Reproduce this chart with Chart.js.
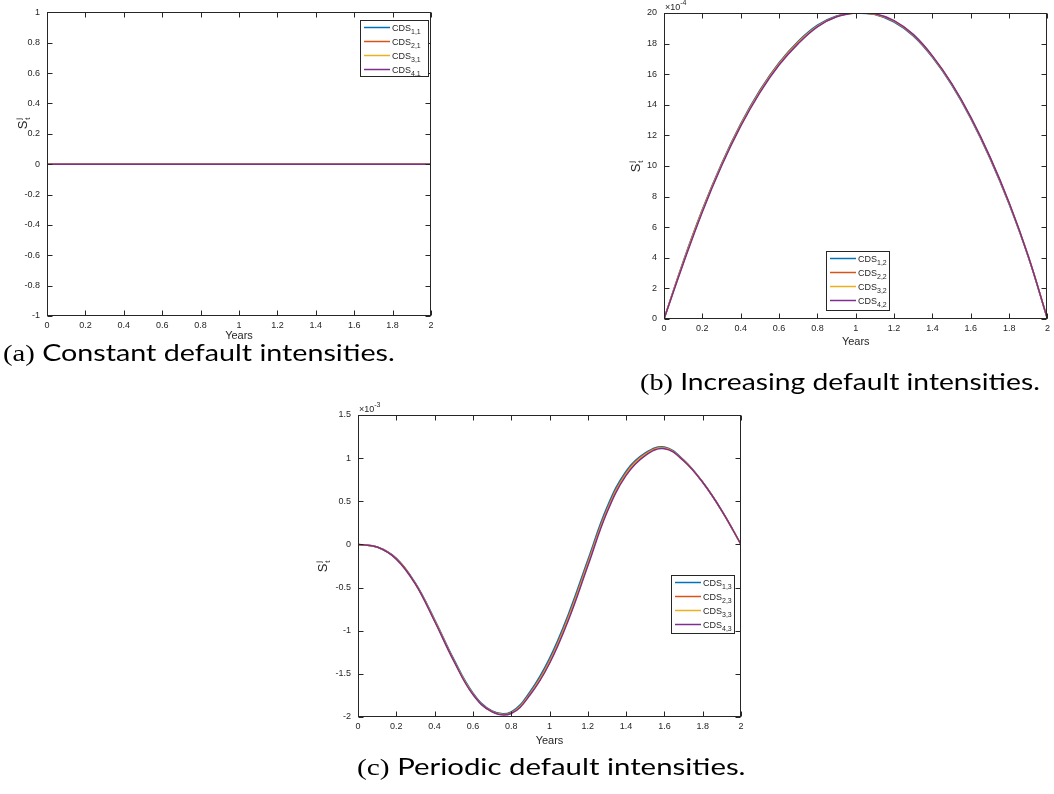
<!DOCTYPE html>
<html>
<head>
<meta charset="utf-8">
<script src="https://cdn.jsdelivr.net/npm/chart.js@4.4.1/dist/chart.umd.min.js"></script>
<style>
  body { margin: 0; background: #fff; width: 1054px; height: 794px; position: relative; overflow: hidden; }
  canvas { position: absolute; }
  .caption { position: absolute; white-space: nowrap; font-family: Lato, "Noto Sans", sans-serif; font-size: 24px; color: #000; transform-origin: left top; line-height: 28px; }
  .caption .tag { font-family: "Liberation Serif", "DejaVu Serif", serif; }
</style>
</head>
<body>
<canvas id="plotA" width="445" height="350" style="left:0px;top:0px"></canvas>
<canvas id="plotB" width="454" height="350" style="left:600px;top:0px"></canvas>
<canvas id="plotC" width="470" height="360" style="left:290px;top:395px"></canvas>

<div class="caption" id="capA" data-w="392" style="left:3px;top:338px"><span class="tag">(a)</span> Constant default intensities.</div>
<div class="caption" id="capB" data-w="400" style="left:640px;top:367px"><span class="tag">(b)</span> Increasing default intensities.</div>
<div class="caption" id="capC" data-w="388" style="left:357px;top:752px"><span class="tag">(c)</span> Periodic default intensities.</div>

<script>
// time grid (years)
const years = [0, 0.1, 0.2, 0.3, 0.4, 0.5, 0.6, 0.7, 0.8, 0.9, 1.0, 1.1, 1.2, 1.3, 1.4, 1.5, 1.6, 1.7, 1.8, 1.9, 2.0];

// series colours (MATLAB default order)
const colors = ["#0072BD", "#D95319", "#EDB120", "#7E2F8E"];

// (a) constant intensities: spread is flat zero
const cds11 = [0, 0, 0, 0, 0, 0, 0, 0, 0, 0, 0, 0, 0, 0, 0, 0, 0, 0, 0, 0, 0];
const cds21 = [0, 0, 0, 0, 0, 0, 0, 0, 0, 0, 0, 0, 0, 0, 0, 0, 0, 0, 0, 0, 0];
const cds31 = [0, 0, 0, 0, 0, 0, 0, 0, 0, 0, 0, 0, 0, 0, 0, 0, 0, 0, 0, 0, 0];
const cds41 = [0, 0, 0, 0, 0, 0, 0, 0, 0, 0, 0, 0, 0, 0, 0, 0, 0, 0, 0, 0, 0];
const namesA = ["1,1", "2,1", "3,1", "4,1"];

// (b) increasing intensities, values in units of 1e-4
const cds12 = [0, 3.75, 7.15, 10.15, 12.75, 14.95, 16.75, 18.15, 19.2, 19.8, 20.0, 19.9, 19.4, 18.5, 17.1, 15.3, 13.1, 10.5, 7.5, 4.05, 0];
const cds22 = [0, 3.7, 7.1, 10.1, 12.7, 14.9, 16.7, 18.1, 19.15, 19.78, 20.0, 19.92, 19.45, 18.55, 17.15, 15.35, 13.15, 10.55, 7.55, 4.08, 0];
const cds32 = [0, 3.65, 7.05, 10.05, 12.65, 14.85, 16.65, 18.05, 19.12, 19.76, 20.0, 19.94, 19.48, 18.58, 17.18, 15.38, 13.18, 10.58, 7.58, 4.1, 0];
const cds42 = [0, 3.6, 7.0, 10.0, 12.6, 14.8, 16.6, 18.0, 19.1, 19.75, 20.0, 19.95, 19.5, 18.6, 17.2, 15.4, 13.2, 10.6, 7.6, 4.1, 0];
const namesB = ["1,2", "2,2", "3,2", "4,2"];

// (c) periodic intensities, values in units of 1e-3
const cds13 = [0, -0.03, -0.16, -0.45, -0.87, -1.33, -1.72, -1.93, -1.94, -1.70, -1.32, -0.80, -0.18, 0.43, 0.85, 1.06, 1.13, 0.98, 0.72, 0.39, 0];
const cds23 = [0, -0.03, -0.165, -0.455, -0.88, -1.34, -1.73, -1.935, -1.95, -1.72, -1.35, -0.83, -0.21, 0.40, 0.83, 1.05, 1.12, 0.975, 0.72, 0.39, 0];
const cds33 = [0, -0.03, -0.17, -0.46, -0.885, -1.345, -1.735, -1.94, -1.955, -1.73, -1.365, -0.85, -0.23, 0.385, 0.815, 1.04, 1.115, 0.97, 0.72, 0.39, 0];
const cds43 = [0, -0.03, -0.17, -0.46, -0.89, -1.35, -1.74, -1.94, -1.96, -1.74, -1.38, -0.87, -0.25, 0.37, 0.80, 1.03, 1.11, 0.97, 0.72, 0.39, 0];
const namesC = ["1,3", "2,3", "3,3", "4,3"];

const ink = "#262626";
const tickFont = { family: "'Liberation Sans', Arial, sans-serif", size: 9 };

// box, inward ticks, axis labels, exponent and legend
const framePlugin = {
  id: "frame",
  afterDatasetsDraw(chart, args, opts) {
    let ctx = chart.ctx;
    let a = chart.chartArea;
    let sx = chart.scales.x, sy = chart.scales.y;
    let L = Math.round(a.left) + 0.5, R = Math.round(a.right) - 0.5;
    let T = Math.round(a.top) + 0.5, B = Math.round(a.bottom) - 0.5;

    ctx.save();
    ctx.strokeStyle = ink;
    ctx.lineWidth = 1;
    ctx.strokeRect(L, T, R - L, B - T);

    ctx.beginPath();
    sx.ticks.forEach(t => {
      let p = Math.round(sx.getPixelForValue(t.value)) + 0.5;
      ctx.moveTo(p, B); ctx.lineTo(p, B - 5);
      ctx.moveTo(p, T); ctx.lineTo(p, T + 5);
    });
    sy.ticks.forEach(t => {
      let p = Math.round(sy.getPixelForValue(t.value)) + 0.5;
      ctx.moveTo(L, p); ctx.lineTo(L + 5, p);
      ctx.moveTo(R, p); ctx.lineTo(R - 5, p);
    });
    ctx.stroke();

    // x axis title
    ctx.fillStyle = ink;
    ctx.font = "11px 'Liberation Sans', Arial, sans-serif";
    ctx.textAlign = "center";
    ctx.textBaseline = "middle";
    ctx.fillText("Years", (a.left + a.right) / 2, a.bottom + opts.yearsGap);

    // y axis title S_t^j, rotated
    ctx.save();
    ctx.translate(opts.ylabel[0], opts.ylabel[1]);
    ctx.rotate(-Math.PI / 2);
    ctx.textAlign = "left";
    ctx.textBaseline = "alphabetic";
    ctx.font = "13px 'Liberation Sans', Arial, sans-serif";
    let ws = ctx.measureText("S").width;
    ctx.fillText("S", -ws / 2 - 2, 5);
    ctx.font = "8px 'Liberation Sans', Arial, sans-serif";
    ctx.fillText("j", ws / 2 - 1, -1);
    ctx.fillText("t", ws / 2 - 1, 8);
    ctx.restore();

    // scale exponent above the y axis
    if (opts.exponent) {
      ctx.textAlign = "left";
      ctx.textBaseline = "alphabetic";
      ctx.font = "9px 'Liberation Sans', Arial, sans-serif";
      ctx.fillText("\u00d710", a.left + 1, a.top - 3);
      let w = ctx.measureText("\u00d710").width;
      ctx.font = "7px 'Liberation Sans', Arial, sans-serif";
      ctx.fillText(opts.exponent, a.left + 1 + w, a.top - 8);
    }

    // legend
    let lg = opts.legend;
    ctx.fillStyle = "#fff";
    ctx.fillRect(lg.x + 0.5, lg.y + 0.5, lg.w, lg.h);
    ctx.strokeStyle = ink;
    ctx.strokeRect(lg.x + 0.5, lg.y + 0.5, lg.w, lg.h);
    lg.names.forEach((n, i) => {
      let y = lg.y + 7.5 + i * 14;
      ctx.strokeStyle = colors[i];
      ctx.lineWidth = 1.5;
      ctx.beginPath();
      ctx.moveTo(lg.x + 4, y);
      ctx.lineTo(lg.x + 30, y);
      ctx.stroke();
      ctx.fillStyle = ink;
      ctx.textAlign = "left";
      ctx.textBaseline = "alphabetic";
      ctx.font = "9px 'Liberation Sans', Arial, sans-serif";
      ctx.fillText("CDS", lg.x + 32, y + 3);
      let w = ctx.measureText("CDS").width;
      ctx.font = "7px 'Liberation Sans', Arial, sans-serif";
      ctx.fillText(n, lg.x + 32 + w, y + 6);
    });
    ctx.restore();
  }
};

function tickLabel(v) {
  return String(Math.round(v * 10) / 10);
}

// first series drawn first, last one (purple) ends up on top
function makeSeries(list) {
  return list.map((vals, i) => ({
    data: years.map((t, k) => ({ x: t, y: vals[k] })),
    borderColor: colors[i],
    borderWidth: 1.5,
    pointRadius: 0,
    fill: false,
    tension: 0.4,
    order: list.length - i
  }));
}

function makeChart(id, series, s) {
  return new Chart(document.getElementById(id), {
    type: "line",
    data: { datasets: makeSeries(series) },
    options: {
      responsive: false,
      animation: false,
      layout: { padding: s.padding },
      plugins: {
        legend: { display: false },
        tooltip: { enabled: false },
        frame: s.frame
      },
      scales: {
        x: {
          type: "linear", min: 0, max: 2,
          afterFit: sc => { sc.height = s.xh; },
          grid: { display: false, drawTicks: false },
          border: { display: false },
          ticks: { stepSize: 0.2, padding: 4, maxRotation: 0, autoSkip: false, color: ink, font: tickFont, callback: tickLabel }
        },
        y: {
          type: "linear", min: s.ymin, max: s.ymax,
          afterFit: sc => { sc.width = s.yw; },
          grid: { display: false, drawTicks: false },
          border: { display: false },
          ticks: { stepSize: s.ystep, padding: 7, autoSkip: false, color: ink, font: tickFont, callback: tickLabel }
        }
      }
    },
    plugins: [framePlugin]
  });
}

makeChart("plotA", [cds11, cds21, cds31, cds41], {
  padding: { left: 0, right: 14, top: 10, bottom: 10 },
  xh: 24, yw: 47, ymin: -1, ymax: 1, ystep: 0.2,
  frame: { yearsGap: 20, ylabel: [22, 123], legend: { x: 360, y: 20, w: 68, h: 56, names: namesA } }
});

makeChart("plotB", [cds12, cds22, cds32, cds42], {
  padding: { left: 0, right: 2, top: 13, bottom: 7 },
  xh: 24, yw: 64, ymin: 0, ymax: 20, ystep: 2,
  frame: { yearsGap: 23, ylabel: [35, 166], exponent: "-4", legend: { x: 226, y: 251, w: 63, h: 59, names: namesB } }
});

makeChart("plotC", [cds13, cds23, cds33, cds43], {
  padding: { left: 0, right: 19, top: 20, bottom: 20 },
  xh: 18, yw: 68, ymin: -2, ymax: 1.5, ystep: 0.5,
  frame: { yearsGap: 24, ylabel: [32, 171], exponent: "-3", legend: { x: 381, y: 180, w: 63, h: 58, names: namesC } }
});

// stretch captions to their set widths
document.querySelectorAll(".caption").forEach(el => {
  let w = parseFloat(el.dataset.w);
  el.style.transform = "scaleX(" + (w / el.offsetWidth) + ")";
});
</script>
</body>
</html>
